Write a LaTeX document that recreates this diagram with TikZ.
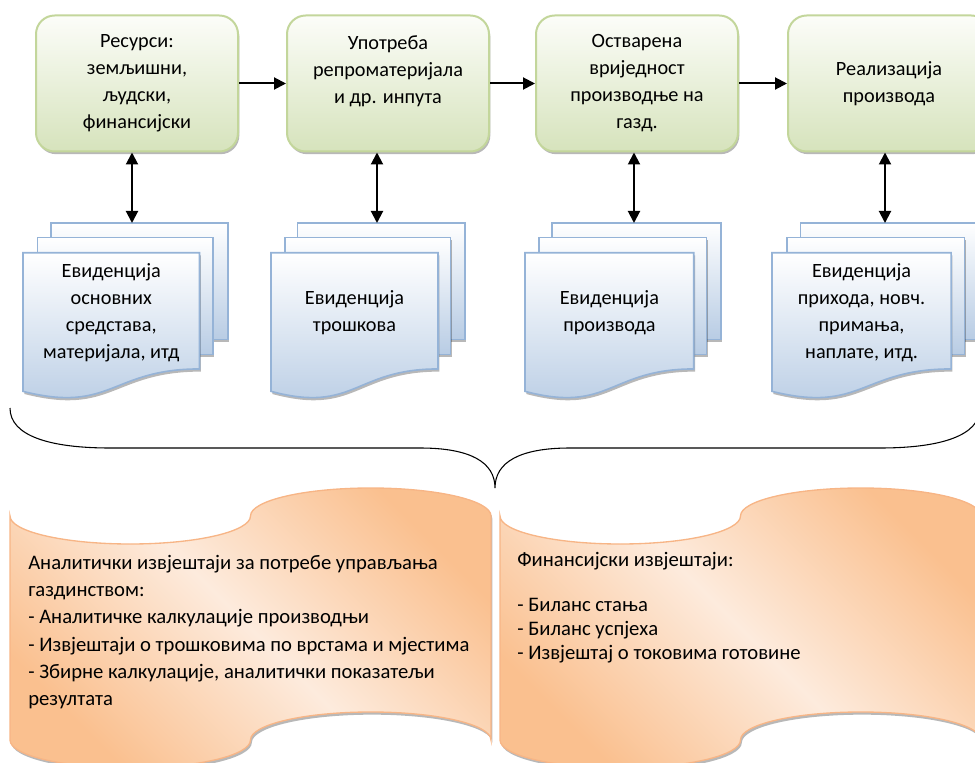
\documentclass[tikz,border=0pt]{standalone}
\usepackage{fontspec}
\setmainfont{Carlito}
\usetikzlibrary{arrows.meta,shadows}

\definecolor{greenTop}{HTML}{FCFDF9}
\definecolor{greenBot}{HTML}{D6E3BC}
\definecolor{greenLine}{HTML}{C3D69B}
\definecolor{blueBot}{HTML}{B8CCE4}
\definecolor{blueLine}{HTML}{95B3D7}
\definecolor{orangeDeep}{HTML}{FAC08F}
\definecolor{orangeLight}{HTML}{FDEBDD}
\definecolor{orangeLine}{HTML}{F7B586}

\newcommand\stagefont{\fontsize{15.2}{20.25}\selectfont}
\newcommand\reportfont{\fontsize{15.5}{20.5}\selectfont}

\tikzset{
  softshadow/.style={drop shadow={shadow xshift=1pt, shadow yshift=-2pt, opacity=0.28, fill=black}},
  stagebox/.style={draw=greenLine, line width=1.5pt, rounded corners=14pt,
    top color=greenTop, bottom color=greenBot, minimum width=151.5pt,
    minimum height=102pt, align=center, inner sep=2pt, font=\stagefont, softshadow},
  docpage/.style={draw=blueLine, line width=1.2pt, top color=white,
    bottom color=blueBot, softshadow},
  doctext/.style={align=center, inner sep=0pt, font=\stagefont},
  scroll/.style={draw=orangeLine, line width=1pt, top color=orangeDeep,
    bottom color=orangeDeep, middle color=orangeLight, shading angle=-45, softshadow},
  reptext/.style={inner sep=0pt, anchor=base west},
  link/.style={line width=1.5pt, black},
  tip/.tip={Triangle[length=9pt, width=9pt]},
  brace/.style={line width=0.8pt, black},
}

% three stacked pages: left edge, overall width, node name, text
\newcommand\docstack[4]{%
  \path[docpage] (#1+0.1376*#2,223) rectangle (#1+#2,339.6);
  \path[docpage] (#1+0.0709*#2,237.7) rectangle (#1+0.926*#2,354.6);
  \path[docpage] (#1,252.75) -- (#1+0.861*#2,252.75) -- (#1+0.861*#2,368.95)
    .. controls (#1+0.4305*#2,368.95) and (#1+0.4305*#2,413.75) .. (#1,391.35) -- cycle;
  \node[doctext] (#3) at (#1+0.4305*#2,313) {#4};
}

% punched-tape panel: left edge, quarter width, top of crest
% (each wave is a half ellipse of half-width #2 and depth 28)
\newcommand\tapepanel[3]{%
  \path[scroll] (#1,#3+28)
    .. controls (#1,#3+43.46) and (#1+0.4477*#2,#3+56) .. (#1+#2,#3+56)
    .. controls (#1+1.5523*#2,#3+56) and (#1+2*#2,#3+43.46) .. (#1+2*#2,#3+28)
    .. controls (#1+2*#2,#3+12.54) and (#1+2.4477*#2,#3) .. (#1+3*#2,#3)
    .. controls (#1+3.5523*#2,#3) and (#1+4*#2,#3+12.54) .. (#1+4*#2,#3+28)
    -- (#1+4*#2,#3+252)
    .. controls (#1+4*#2,#3+236.54) and (#1+3.5523*#2,#3+224) .. (#1+3*#2,#3+224)
    .. controls (#1+2.4477*#2,#3+224) and (#1+2*#2,#3+236.54) .. (#1+2*#2,#3+252)
    .. controls (#1+2*#2,#3+267.46) and (#1+1.5523*#2,#3+280) .. (#1+#2,#3+280)
    .. controls (#1+0.4477*#2,#3+280) and (#1,#3+267.46) .. (#1,#3+252)
    -- cycle;
}

\begin{document}
\begin{tikzpicture}[x=0.75pt, y=-0.75pt]
\useasboundingbox (0,0) rectangle (975,763);
\clip (0,0) rectangle (975,763);

% process stages
\node[stagebox] (g1) at (137,83.5) {Ресурси:\\земљишни,\\људски,\\финансијски};
\node[stagebox] (g2) at (388,83.5) {Употреба\\репроматеријала\\и др. инпута\\ \mbox{}};
\node[stagebox] (g3) at (637,83.5) {Остварена\\вриједност\\производње на\\газд.};
\node[stagebox] (g4) at (889,83.5) {Реализација\\производа};

\draw[link,-tip] (g1) -- (g2);
\draw[link,-tip] (g2) -- (g3);
\draw[link,-tip] (g3) -- (g4);

% records kept for each stage
\docstack{23}{205}{d1}{Евиденција\\основних\\средстава,\\материјала, итд}
\docstack{271}{194}{d2}{Евиденција\\трошкова}
\docstack{525}{196}{d3}{Евиденција\\производа}
\docstack{772}{208}{d4}{Евиденција\\прихода, новч.\\примања,\\наплате, итд.}

\coordinate (t1) at (132,223);
\coordinate (t2) at (377,223);
\coordinate (t3) at (634,223);
\coordinate (t4) at (885,223);
\draw[link,tip-tip] (t1 |- g1.south) -- (t1);
\draw[link,tip-tip] (t2 |- g2.south) -- (t2);
\draw[link,tip-tip] (t3 |- g3.south) -- (t3);
\draw[link,tip-tip] (t4 |- g4.south) -- (t4);

% brace gathering all records
\coordinate (bl) at (10,408);
\coordinate (bt) at (495,488);
\coordinate (br) at (980,408);
\draw[brace] (bl) .. controls (10,436) and (50,448) .. (110,448) -- (420,448)
  .. controls (470,448) and (495,462) .. (bt)
  .. controls (495,462) and (520,448) .. (570,448) -- (880,448)
  .. controls (940,448) and (980,436) .. (br);

% report panels
\tapepanel{10}{120.25}{488}
\tapepanel{500}{120.25}{488}

\node[reptext] (r1) at (28,569.3) {\parbox[t]{360pt}{\reportfont
  Аналитички извјештаји за потребе управљања\\
  газдинством:\\
  - Аналитичке калкулације производњи\\
  - Извјештаји о трошковима по врстама и мјестима\\
  - Збирне калкулације, аналитички показатељи\\
  резултата}};

\node[reptext] (r2) at (517,566) {\parbox[t]{340pt}{\fontsize{15.5}{18}\selectfont
  Финансијски извјештаји:\\[15.75pt]
  - Биланс стања\\
  - Биланс успјеха\\
  - Извјештај о токовима готовине}};
\end{tikzpicture}
\end{document}
